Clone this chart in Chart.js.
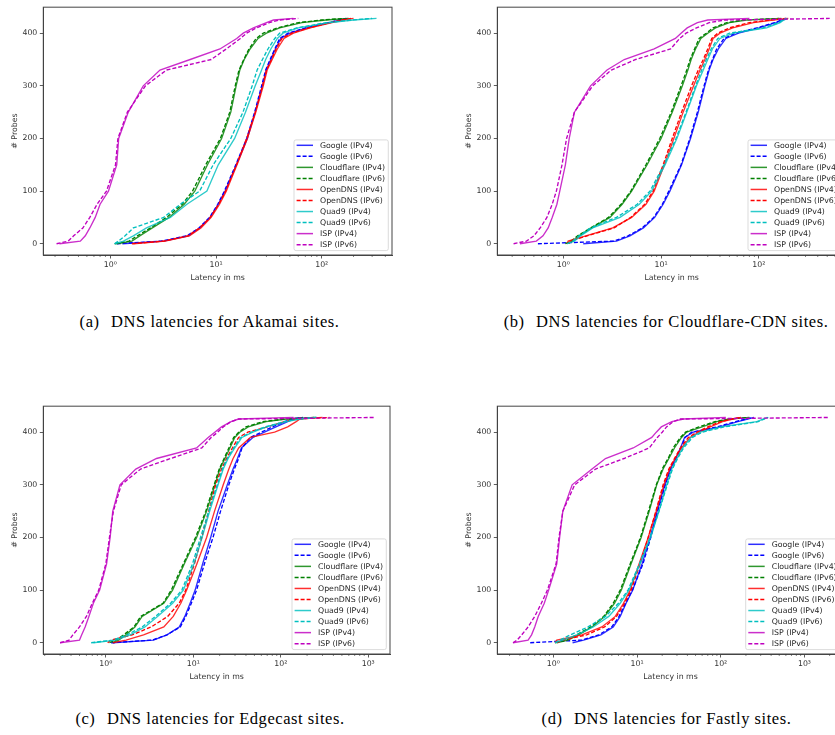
<!DOCTYPE html>
<html>
<head>
<meta charset="utf-8">
<script src="https://cdn.jsdelivr.net/npm/chart.js@4.4.0/dist/chart.umd.min.js"></script>
<style>
html,body{margin:0;padding:0;background:#fff;width:835px;height:735px;overflow:hidden;}
#wrap{position:relative;width:835px;height:735px;overflow:hidden;background:#fff;}
.cv{position:absolute;}
.cap{position:absolute;font-family:'Liberation Serif','Times New Roman',serif;font-size:16.5px;line-height:1;letter-spacing:0.55px;color:#000;white-space:nowrap;transform:translateX(-50%);}
.gap{display:inline-block;width:0.7em;}
</style>
</head>
<body>
<div id="wrap">
  <canvas id="ca" class="cv" width="400" height="290" style="left:0px;top:0px;width:400px;height:290px"></canvas>
  <canvas id="cb" class="cv" width="400" height="290" style="left:454px;top:0px;width:400px;height:290px"></canvas>
  <canvas id="cc" class="cv" width="400" height="290" style="left:0px;top:399px;width:400px;height:290px"></canvas>
  <canvas id="cd" class="cv" width="400" height="290" style="left:454px;top:399px;width:400px;height:290px"></canvas>
  <div class="cap" style="left:209.5px;top:314px">(a)<span class="gap"></span>DNS latencies for Akamai sites.</div>
  <div class="cap" style="left:666px;top:314px">(b)<span class="gap"></span>DNS latencies for Cloudflare-CDN sites.</div>
  <div class="cap" style="left:210px;top:711px">(c)<span class="gap"></span>DNS latencies for Edgecast sites.</div>
  <div class="cap" style="left:666.5px;top:711px">(d)<span class="gap"></span>DNS latencies for Fastly sites.</div>
</div>
<script>
const levels = [0, 5, 15, 30, 50, 75, 100, 150, 200, 250, 300, 330, 350, 370, 390, 400, 410, 420, 425, 428];
const yTicks = [0, 100, 200, 300, 400];

// (a) Akamai — latency (ms) at each level
const akGoogle4     = [1.3, 3.2, 5.5, 7.0, 8.8, 10.5, 12.2, 15.6, 19.8, 23.5, 27.5, 30, 33, 36.5, 41, 50, 72, 120, 150, 175];
const akGoogle6     = [1.15, 3.0, 5.3, 6.9, 8.7, 10.4, 12.0, 15.4, 19.5, 23.2, 27.0, 29.5, 32.5, 36, 40, 48, 70, 115, 145, 170];
const akCloudflare4 = [1.15, 1.6, 1.9, 2.5, 3.6, 5.0, 6.3, 8.3, 11.3, 13.8, 15.5, 16.8, 18.5, 21, 25, 30, 40, 65, 110, 180];
const akCloudflare6 = [1.1, 1.5, 1.8, 2.4, 3.4, 4.8, 6.0, 8.0, 11.0, 13.5, 15.2, 16.5, 18.3, 20.5, 24, 28, 38, 60, 100, 160];
const akOpenDNS4    = [1.65, 3.3, 5.6, 7.2, 9.0, 10.8, 12.5, 15.8, 19.8, 23.8, 28, 30.5, 34, 38, 44, 54, 78, 125, 160, 200];
const akOpenDNS6    = [1.6, 3.2, 5.4, 7.0, 8.8, 10.6, 12.3, 15.6, 19.5, 23.5, 27.5, 30, 33.5, 37, 42, 52, 75, 120, 155, 190];
const akQuad94      = [1.1, 1.33, 1.65, 2.2, 3.7, 5.3, 8.2, 10.5, 15, 19, 23.5, 27, 29.5, 33, 38, 43, 60, 120, 200, 330];
const akQuad96      = [1.1, 1.19, 1.38, 1.65, 3.2, 4.6, 7.0, 9.4, 13.8, 18, 22, 24.5, 27.5, 31, 36, 40, 58, 110, 190, 300];
const akISP4        = [0.33, 0.52, 0.58, 0.64, 0.72, 0.80, 0.96, 1.15, 1.2, 1.48, 2.05, 2.95, 5.7, 10.9, 15.7, 18.1, 22.6, 30, 35, 54];
const akISP6        = [0.31, 0.40, 0.45, 0.55, 0.64, 0.75, 0.92, 1.12, 1.18, 1.45, 2.15, 3.4, 9.0, 12.5, 17, 19.5, 24, 32, 40, 60];

// (b) Cloudflare-CDN
const cfGoogle4     = [1.6, 3.5, 4.8, 6.6, 8.6, 10.5, 12.3, 16.2, 20, 24, 28, 31, 34, 38.5, 46, 62, 100, 150, 175, 195];
const cfGoogle6     = [0.55, 3.3, 4.6, 6.4, 8.4, 10.3, 12.0, 16, 19.7, 23.5, 27.5, 30.5, 33.5, 37, 44, 58, 95, 145, 170, 190];
const cfCloudflare4 = [1.08, 1.25, 1.45, 1.95, 3.0, 4.0, 5.0, 7.2, 10, 13, 16.5, 18.8, 20.3, 22.5, 25.5, 30, 36, 50, 75, 170];
const cfCloudflare6 = [1.05, 1.2, 1.4, 1.9, 2.9, 3.9, 4.9, 7.0, 9.7, 12.7, 16, 18.3, 19.8, 22, 24.5, 29, 34, 47, 70, 160];
const cfOpenDNS4    = [1.1, 1.12, 1.7, 3.2, 5.0, 7.0, 8.5, 10.8, 13.5, 16.8, 21.5, 25, 28, 31, 34, 40, 54, 88, 140, 200];
const cfOpenDNS6    = [1.15, 1.18, 1.75, 3.3, 4.9, 6.8, 8.3, 10.5, 13.0, 16.2, 20.5, 24, 27, 30, 33, 38, 50, 80, 130, 190];
const cfQuad94      = [1.1, 1.3, 1.5, 2.0, 3.8, 6.0, 8.0, 11, 14.5, 18.3, 23, 27, 30, 33.5, 40, 55, 120, 165, 180, 195];
const cfQuad96      = [1.1, 1.25, 1.45, 1.9, 3.5, 5.7, 7.7, 10.7, 14.2, 18, 22.5, 26, 29, 32.5, 38, 50, 110, 160, 175, 190];
const cfISP4        = [0.36, 0.53, 0.62, 0.70, 0.77, 0.86, 0.92, 1.05, 1.15, 1.30, 1.9, 2.8, 4.2, 8.5, 14, 16, 18.5, 23.5, 30, 80];
const cfISP6        = [0.31, 0.42, 0.5, 0.58, 0.68, 0.77, 0.85, 0.97, 1.08, 1.3, 2.0, 3.1, 5.5, 12.5, 15.5, 18, 23, 31, 45, 530];

// (c) Edgecast
const ecGoogle4     = [1.2, 3.5, 5.0, 6.9, 8.0, 9.2, 10.5, 12.8, 15.8, 19.2, 24.5, 28.5, 32, 35.5, 48, 65, 88, 120, 140, 180];
const ecGoogle6     = [1.15, 3.4, 5.0, 7.1, 8.2, 9.5, 10.9, 13.4, 16.8, 20.5, 25.5, 29.5, 33, 36, 45, 60, 80, 110, 135, 170];
const ecCloudflare4 = [1.2, 1.4, 1.7, 2.15, 2.6, 4.6, 5.8, 7.9, 10.9, 14.2, 17.7, 20.1, 23, 26.2, 29.8, 34, 42.5, 68, 116, 256];
const ecCloudflare6 = [1.1, 1.3, 1.6, 2.1, 2.5, 4.5, 5.6, 7.7, 10.6, 13.9, 17.3, 19.8, 22.5, 25.5, 29, 33, 40, 62, 110, 240];
const ecOpenDNS4    = [1.2, 1.7, 2.7, 4.6, 5.9, 7.2, 8.4, 11.0, 14.2, 17.5, 22, 25.5, 28.5, 33, 45, 85, 120, 150, 166, 300];
const ecOpenDNS6    = [1.05, 1.15, 2.0, 3.3, 5.1, 6.9, 8.2, 10.3, 12.5, 15, 18, 21, 24, 28, 33, 42, 70, 110, 150, 360];
const ecQuad94      = [0.72, 1.3, 1.9, 2.8, 3.9, 5.8, 7.7, 10.2, 12.6, 15.4, 19.2, 22, 25, 29.8, 36, 48, 69, 116, 166, 256];
const ecQuad96      = [0.68, 1.2, 1.75, 2.6, 3.7, 5.5, 7.4, 9.8, 12.1, 15.0, 18.8, 21.5, 24.5, 29, 35, 46, 66, 110, 160, 250];
const ecISP4        = [0.30, 0.50, 0.53, 0.58, 0.64, 0.72, 0.85, 1.02, 1.12, 1.2, 1.45, 2.2, 3.8, 10.9, 14.8, 17.6, 21, 27, 33, 140];
const ecISP6        = [0.30, 0.38, 0.42, 0.5, 0.6, 0.7, 0.83, 1.0, 1.1, 1.22, 1.5, 2.5, 5.5, 12.5, 16, 19, 22, 27, 33, 1190];

// (d) Fastly
const faGoogle4     = [1.7, 2.3, 3.7, 5.2, 6.3, 7.4, 8.9, 11.5, 14.3, 17.4, 21.5, 25, 29, 33, 37, 47, 98, 160, 210, 250];
const faGoogle6     = [0.53, 2.2, 3.5, 5.0, 6.1, 7.3, 8.8, 11.8, 14.6, 17.7, 21.8, 25.3, 29.3, 33.5, 37.5, 45, 90, 150, 200, 240];
const faCloudflare4 = [1.1, 1.5, 2.0, 2.9, 4.1, 5.4, 6.5, 8.5, 11.2, 14.0, 17.2, 20.5, 24, 28, 34, 39, 60, 90, 130, 220];
const faCloudflare6 = [1.05, 1.4, 1.9, 2.8, 4.0, 5.2, 6.3, 8.3, 11.0, 13.7, 17, 20, 23.5, 27, 33, 38, 55, 85, 125, 210];
const faOpenDNS4    = [1.05, 1.1, 2.2, 3.8, 5.5, 6.9, 8.3, 10.6, 13.6, 17, 21, 24.5, 28.5, 34, 43, 55, 75, 105, 140, 175];
const faOpenDNS6    = [1.1, 1.3, 2.5, 4.1, 5.7, 7.1, 8.5, 10.9, 13.6, 16.8, 20.5, 24, 28, 33, 41, 52, 70, 100, 135, 170];
const faQuad94      = [1.05, 1.3, 1.9, 3.0, 4.6, 6.3, 8.0, 10.9, 14.5, 18.3, 22.6, 26, 30, 35, 44, 57, 100, 270, 320, 360];
const faQuad96      = [1.05, 1.2, 1.6, 2.6, 4.2, 6.0, 7.8, 10.7, 14.3, 18.3, 23, 26.5, 30.5, 36, 46, 60, 110, 280, 330, 370];
const faISP4        = [0.33, 0.5, 0.55, 0.6, 0.66, 0.78, 0.88, 1.1, 1.19, 1.3, 1.68, 2.9, 4.2, 9.0, 15, 17, 19.5, 26, 36, 115];
const faISP6        = [0.33, 0.37, 0.42, 0.5, 0.6, 0.72, 0.85, 1.08, 1.17, 1.3, 1.8, 3.2, 7, 14, 17.5, 20, 22.5, 27, 33, 1940];

const resolvers = ['Google', 'Cloudflare', 'OpenDNS', 'Quad9', 'ISP'];
const rgb = ['0,0,255', '0,128,0', '255,0,0', '0,191,191', '191,0,191'];
const FONT = "'DejaVu Sans', sans-serif";
const FS = 7.8;

function makeDatasets(arrs) {
  return arrs.map((xs, i) => {
    const k = Math.floor(i / 2), v6 = i % 2 === 1;
    return {
      label: resolvers[k] + (v6 ? ' (IPv6)' : ' (IPv4)'),
      data: xs.map((x, j) => ({x: x, y: levels[j]})),
      borderColor: v6 ? 'rgb(' + rgb[k] + ')' : 'rgba(' + rgb[k] + ',0.82)',
      borderWidth: 1.35,
      borderDash: v6 ? [4, 2] : [],
      pointRadius: 0, pointHoverRadius: 0, fill: false, tension: 0,
      order: 9 - i
    };
  });
}

const supMap = {'-': '\u207B', '0': '\u2070', '1': '\u00B9', '2': '\u00B2', '3': '\u00B3', '4': '\u2074'};
function decLabel(v) {
  const e = Math.round(Math.log10(v));
  return '10' + String(e).split('').map(c => supMap[c]).join('');
}

const framePlugin = {
  id: 'frame',
  afterDraw(chart) {
    const ctx = chart.ctx, a = chart.chartArea, xs = chart.scales.x;
    ctx.save();
    // minor ticks
    ctx.strokeStyle = '#333'; ctx.lineWidth = 0.6;
    for (let e = -2; e <= 4; e++) {
      for (let m = 2; m <= 9; m++) {
        const v = m * Math.pow(10, e);
        if (v <= xs.min || v >= xs.max) continue;
        const px = xs.getPixelForValue(v);
        ctx.beginPath(); ctx.moveTo(px, a.bottom); ctx.lineTo(px, a.bottom + 2); ctx.stroke();
      }
    }
    // frame
    ctx.strokeStyle = '#444'; ctx.lineWidth = 1;
    ctx.strokeRect(a.left, a.top, a.right - a.left, a.bottom - a.top);
    // legend
    const W = 94.3, H = 110.7;
    const lx = a.right - 3.7 - W, ly = a.bottom - 4.4 - H;
    ctx.fillStyle = 'rgba(255,255,255,0.85)';
    ctx.strokeStyle = '#d2d2d2'; ctx.lineWidth = 0.8;
    ctx.beginPath();
    if (ctx.roundRect) ctx.roundRect(lx, ly, W, H, 2); else ctx.rect(lx, ly, W, H);
    ctx.fill(); ctx.stroke();
    ctx.font = FS + 'px ' + FONT;
    ctx.textBaseline = 'middle';
    chart.data.datasets.forEach((ds, i) => {
      const y = ly + 5.4 + i * 11.04;
      ctx.strokeStyle = ds.borderColor; ctx.lineWidth = 1.5;
      ctx.setLineDash(ds.borderDash);
      ctx.beginPath(); ctx.moveTo(lx + 2.6, y); ctx.lineTo(lx + 19, y); ctx.stroke();
      ctx.setLineDash([]);
      ctx.fillStyle = '#262626';
      ctx.fillText(ds.label, lx + 26, y + 0.5);
    });
    ctx.restore();
  }
};

function makeChart(id, arrs, xmin, xmax, pad) {
  new Chart(document.getElementById(id), {
    type: 'line',
    data: {datasets: makeDatasets(arrs)},
    options: {
      responsive: false, animation: false,
      layout: {padding: {left: 0, right: pad.right, top: pad.top, bottom: 0}},
      plugins: {legend: {display: false}, tooltip: {enabled: false}},
      events: [],
      scales: {
        x: {
          type: 'logarithmic', min: xmin, max: xmax,
          afterBuildTicks: s => {
            const t = [];
            for (let e = -2; e <= 4; e++) { const v = Math.pow(10, e); if (v > s.min && v < s.max) t.push({value: v}); }
            s.ticks = t;
          },
          afterFit: s => { s.height = 35; },
          grid: {drawOnChartArea: false, drawTicks: true, tickLength: 3.5, tickColor: '#333', tickWidth: 0.8},
          border: {display: true, color: '#444', width: 1},
          ticks: {autoSkip: false, maxRotation: 0, padding: 2, color: '#333', font: {family: FONT, size: FS},
                  callback: v => decLabel(v)},
          title: {display: true, text: 'Latency in ms', color: '#333', font: {family: FONT, size: FS}, padding: {top: 0, bottom: 7.6}}
        },
        y: {
          type: 'linear', min: -21.4, max: 449.4,
          afterBuildTicks: s => { s.ticks = yTicks.map(v => ({value: v})); },
          afterFit: s => { s.width = 43.3; },
          grid: {drawOnChartArea: false, drawTicks: true, tickLength: 3.5, tickColor: '#333', tickWidth: 0.8},
          border: {display: true, color: '#444', width: 1},
          ticks: {autoSkip: false, padding: 2.5, color: '#333', font: {family: FONT, size: FS}, callback: v => String(v)},
          title: {display: true, text: '# Probes', color: '#333', font: {family: FONT, size: FS}, padding: {top: 10.3, bottom: 0}}
        }
      }
    },
    plugins: [framePlugin]
  });
}

makeChart('ca', [akGoogle4, akGoogle6, akCloudflare4, akCloudflare6, akOpenDNS4, akOpenDNS6, akQuad94, akQuad96, akISP4, akISP6],
          Math.pow(10, -0.634), Math.pow(10, 2.665), {right: 8, top: 1});
makeChart('cb', [cfGoogle4, cfGoogle6, cfCloudflare4, cfCloudflare6, cfOpenDNS4, cfOpenDNS6, cfQuad94, cfQuad96, cfISP4, cfISP6],
          Math.pow(10, -0.675), Math.pow(10, 2.891), {right: 8, top: 1});
makeChart('cc', [ecGoogle4, ecGoogle6, ecCloudflare4, ecCloudflare6, ecOpenDNS4, ecOpenDNS6, ecQuad94, ecQuad96, ecISP4, ecISP6],
          Math.pow(10, -0.715), Math.pow(10, 3.249), {right: 10, top: 0.3});
makeChart('cd', [faGoogle4, faGoogle6, faCloudflare4, faCloudflare6, faOpenDNS4, faOpenDNS6, faQuad94, faQuad96, faISP4, faISP6],
          Math.pow(10, -0.669), Math.pow(10, 3.469), {right: 10.3, top: 0.3});
</script>
</body>
</html>
